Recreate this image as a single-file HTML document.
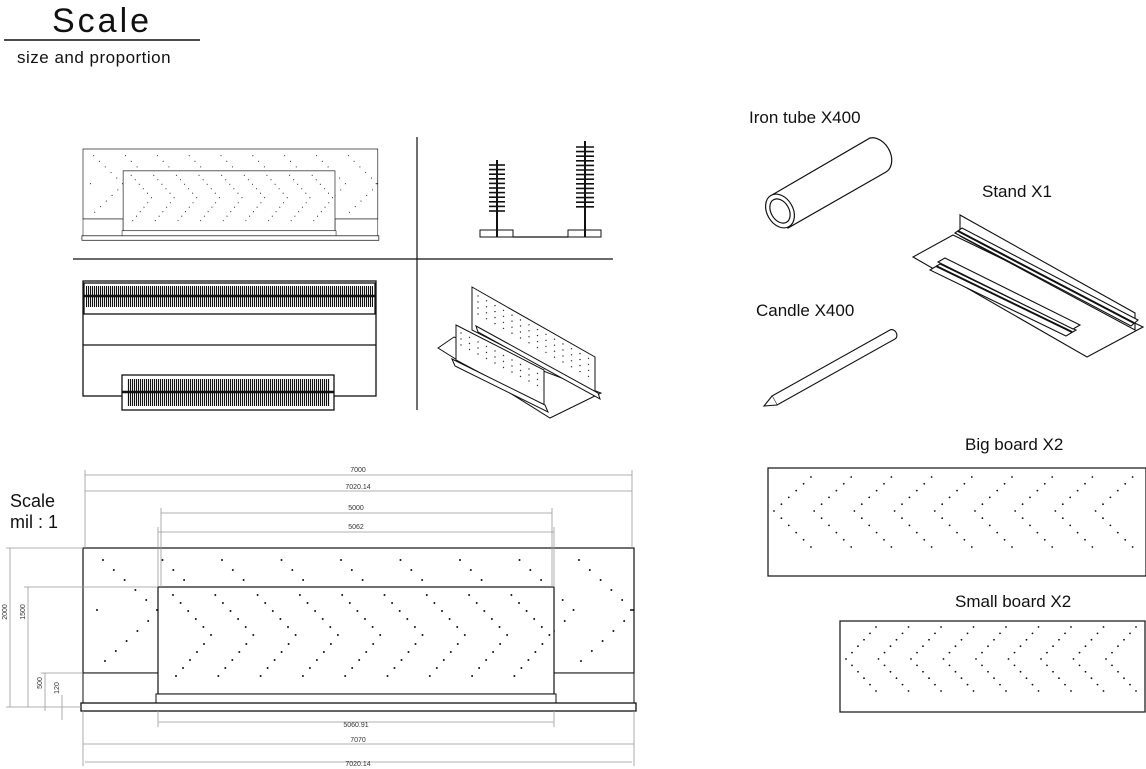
<!DOCTYPE html>
<html><head><meta charset="utf-8"><style>
html,body{margin:0;padding:0;background:#fff;}
svg{display:block;font-family:"Liberation Sans",sans-serif;}
</style></head><body>
<svg id="s" width="1146" height="769" viewBox="0 0 1146 769" xmlns="http://www.w3.org/2000/svg">
<defs>
<pattern id="comb" width="2" height="10" patternUnits="userSpaceOnUse"><rect x="0" y="0" width="1.1" height="10" fill="#111"/></pattern>
<g id="elev">
 <g id="outerDots"></g>
 <rect x="83" y="548" width="551" height="125" fill="none" stroke="#111" stroke-width="1.2"/>
 <rect x="83" y="673" width="75" height="30" fill="#fff" stroke="#111" stroke-width="1"/>
 <rect x="554" y="673" width="80" height="30" fill="#fff" stroke="#111" stroke-width="1"/>
 <rect x="158" y="587" width="396" height="107" fill="#fff" stroke="#111" stroke-width="1.2"/>
 <g id="innerDots"></g>
 <rect x="156" y="694" width="400" height="9" fill="#fff" stroke="#111" stroke-width="1"/>
 <rect x="81" y="703" width="555" height="8" fill="#fff" stroke="#111" stroke-width="1.3"/>
</g>
</defs>
<g fill="#111">
<text x="52" y="32" font-size="34" letter-spacing="3">Scale</text>
<text x="17" y="63" font-size="17" letter-spacing="0.5">size and proportion</text>
<text x="749" y="123" font-size="17">Iron tube X400</text>
<text x="982" y="197" font-size="17">Stand X1</text>
<text x="756" y="316" font-size="17">Candle X400</text>
<text x="965" y="450" font-size="17">Big board X2</text>
<text x="955" y="607" font-size="17">Small board X2</text>
<text x="10" y="507" font-size="18">Scale</text>
<text x="10" y="528" font-size="18">mil : 1</text>
</g>
<line x1="4" y1="40" x2="200" y2="40" stroke="#111" stroke-width="1.5"/>

<line x1="417" y1="137" x2="417" y2="410" stroke="#111" stroke-width="1.2"/>
<line x1="73" y1="259" x2="613" y2="259" stroke="#111" stroke-width="1.2"/>

<use href="#elev" transform="translate(83,149) scale(0.535,0.56) translate(-83,-548)"/>
<use href="#elev"/>

<g stroke="#111" fill="none" stroke-width="1">
 <line x1="513" y1="237" x2="568" y2="237" stroke-width="1.3"/>
 <rect x="480" y="230" width="33" height="7"/>
 <rect x="568" y="230" width="33" height="7"/>
 <line x1="497" y1="160" x2="497" y2="237" stroke-width="2"/>
 <line x1="585" y1="141" x2="585" y2="237" stroke-width="2"/>
 <g id="ticks" stroke-width="1.6"></g>
</g>

<g stroke="#111" fill="none" stroke-width="1.3">
 <rect x="83" y="281" width="293" height="115"/>
 <rect x="84" y="283" width="291" height="31"/>
 <line x1="83" y1="345" x2="376" y2="345"/>
 <rect x="86" y="286" width="287" height="21" fill="url(#comb)" stroke="none"/>
 <line x1="84" y1="296" x2="375" y2="296" stroke-width="2.5"/>
 <rect x="122" y="375" width="212" height="35" fill="#fff"/>
 <rect x="127" y="379" width="203" height="27" fill="url(#comb)" stroke="none"/>
 <line x1="122" y1="392" x2="334" y2="392" stroke-width="2.5"/>
</g>

<g stroke="#111" fill="#fff" stroke-width="1">
 <polygon points="438,348 454,337 601,393 550,418"/>
 <polygon points="472,287 595,357 595,393 472,330"/>
 <polygon points="456,325 544,370 544,407 456,360"/>
 <polygon points="452,359 545,405 548,412 455,366"/>
 <polygon points="476,326 598,393 600,399 478,332"/>
</g>
<g id="isoDots" fill="#333"></g>

<g stroke="#111" fill="#fff" stroke-width="1.2">
 <path d="M772,195 L870,138 A14,19 -30 0 1 886,172 L788,228 Z"/>
 <ellipse cx="780" cy="211" rx="13" ry="18" transform="rotate(-30 780 211)"/>
 <ellipse cx="780" cy="211" rx="9" ry="13" transform="rotate(-30 780 211)"/>
</g>
<g stroke="#111" fill="#fff" stroke-width="1.1">
 <path d="M772,396 L890,330 A4,5 -30 0 1 895,339 L777,405 Z"/>
 <path d="M772,396 L764,406 L777,405"/>
</g>
<g stroke="#111" fill="#fff" stroke-width="1.1">
 <polygon points="913,257 953,235 1143,327 1087,357"/>
 <polygon points="960,215 960,236 1135,330 1135,313"/>
 <polygon points="955,233 962,228 1138,320 1131,326"/>
 <line x1="958" y1="231" x2="1134" y2="323" stroke-width="2"/>
 <polygon points="930,270 940,264 1076,330 1066,336"/>
 <polygon points="938,262 945,258 1080,325 1073,329"/>
 <line x1="936" y1="266" x2="1072" y2="332" stroke-width="2"/>
</g>

<rect x="768" y="468" width="378" height="108" fill="none" stroke="#111" stroke-width="1.2"/>
<rect x="840" y="621" width="305" height="91" fill="none" stroke="#111" stroke-width="1.2"/>
<g id="boardDots" fill="#111"></g>

<g stroke="#999" stroke-width="0.8" fill="none">
 <line x1="85" y1="475" x2="632" y2="475"/><line x1="85" y1="491" x2="632" y2="491"/>
 <line x1="161" y1="513" x2="552" y2="513"/><line x1="158" y1="532" x2="554" y2="532"/>
 <line x1="85" y1="470" x2="85" y2="548"/><line x1="632" y1="470" x2="632" y2="548"/>
 <line x1="161" y1="508" x2="161" y2="587"/><line x1="552" y1="508" x2="552" y2="587"/>
 <line x1="158" y1="527" x2="158" y2="587"/><line x1="554" y1="527" x2="554" y2="587"/>
 <line x1="158" y1="722" x2="554" y2="722"/><line x1="83" y1="744" x2="634" y2="744"/><line x1="85" y1="762" x2="632" y2="762"/>
 <line x1="158" y1="711" x2="158" y2="727"/><line x1="554" y1="711" x2="554" y2="727"/>
 <line x1="83" y1="711" x2="83" y2="766"/><line x1="634" y1="711" x2="634" y2="766"/>
 <line x1="10" y1="548" x2="10" y2="707"/><line x1="28" y1="587" x2="28" y2="707"/>
 <line x1="45" y1="673" x2="45" y2="711"/><line x1="62" y1="695" x2="62" y2="720"/>
 <line x1="6" y1="548" x2="83" y2="548"/><line x1="24" y1="587" x2="158" y2="587"/>
 <line x1="41" y1="673" x2="83" y2="673"/><line x1="6" y1="707" x2="81" y2="707"/>
</g>
<g fill="#333" font-size="7" text-anchor="middle">
 <text x="358" y="472">7000</text><text x="358" y="489">7020.14</text>
 <text x="356" y="510">5000</text><text x="356" y="529">5062</text>
 <text x="356" y="727">5060.91</text><text x="358" y="742">7070</text><text x="358" y="766">7020.14</text>
 <text transform="translate(7,612) rotate(-90)">2000</text>
 <text transform="translate(25,612) rotate(-90)">1500</text>
 <text transform="translate(42,683) rotate(-90)">500</text>
 <text transform="translate(59,688) rotate(-90)">120</text>
</g>
</svg>
<script>
var NS="http://www.w3.org/2000/svg";
function dot(g,x,y,r){var c=document.createElementNS(NS,"circle");c.setAttribute("cx",x);c.setAttribute("cy",y);c.setAttribute("r",r||1);g.appendChild(c);}
var od=document.getElementById("outerDots"),id=document.getElementById("innerDots");
od.setAttribute("fill","#111");id.setAttribute("fill","#111");
for(var i=0;i<9;i++){var x0=103+i*59.5;for(var k=0;k<6;k++){dot(od,x0+k*10.8,560+k*10);if(k<5)dot(od,x0+k*10.8+2,661-k*10);}}
dot(od,97,610);dot(od,631,610);
for(var i=0;i<9;i++){var x0=173+i*42.3;for(var k=0;k<6;k++){dot(id,x0+k*7.6,595+k*8);if(k<5)dot(id,x0+3+k*7,676-k*8);}}
var bd=document.getElementById("boardDots");
for(var i=0;i<9;i++){var v=774+i*40.2;for(var k=0;k<6;k++){dot(bd,v+k*7.4,511-k*6.8,0.9);if(k>0)dot(bd,v+k*7.4,511+k*7.2,0.9);}}
for(var i=0;i<9;i++){var v=846+i*32.5;for(var k=0;k<6;k++){dot(bd,v+k*6,659-k*6.4,0.9);if(k>0)dot(bd,v+k*6,659+k*6.4,0.9);}}
var t=document.getElementById("ticks");
function tk(x,y1,n,w){for(var j=0;j<n;j++){var l=document.createElementNS(NS,"line");var y=y1+j*4.6;l.setAttribute("x1",x-w);l.setAttribute("x2",x+w);l.setAttribute("y1",y);l.setAttribute("y2",y);t.appendChild(l);}}
tk(497,165,11,8);tk(585,147,14,9);
var iso=document.getElementById("isoDots");
for(var j=0;j<14;j++){for(var k=0;k<4;k++){dot(iso,478+j*8.5,296+j*4.8+k*6,0.7);}}
for(var j=0;j<10;j++){for(var k=0;k<3;k++){dot(iso,461+j*8.5,333+j*4.5+k*6,0.7);}}
</script>
</body></html>
